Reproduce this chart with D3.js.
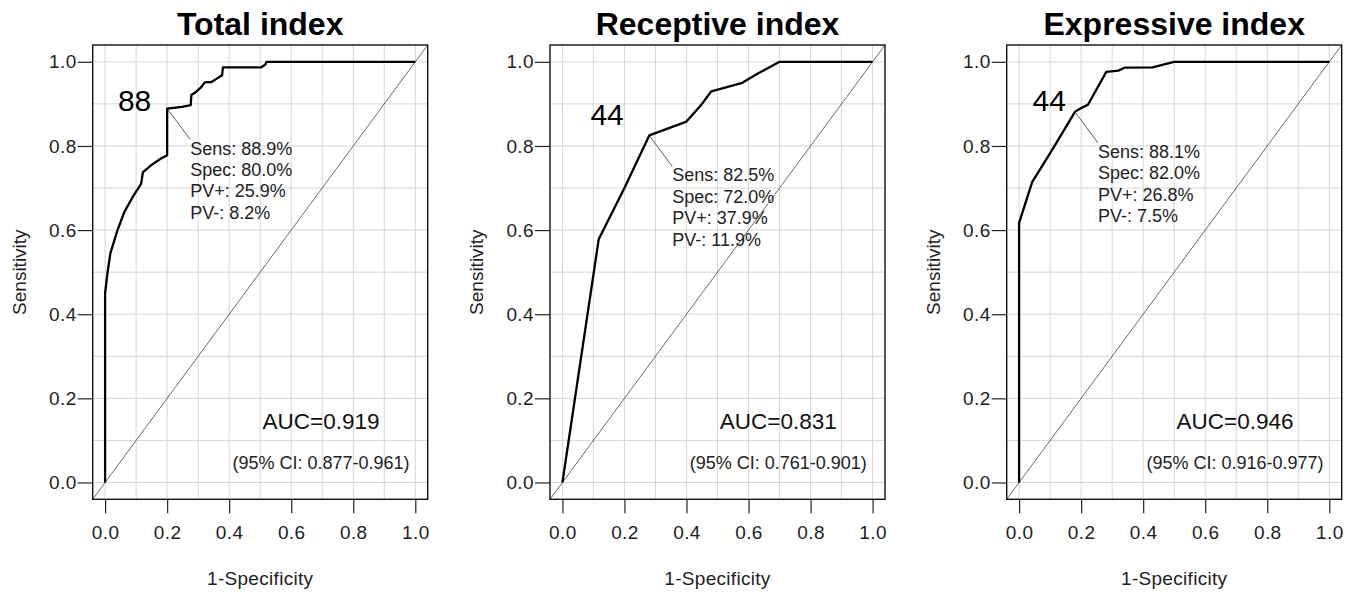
<!DOCTYPE html>
<html>
<head>
<meta charset="utf-8">
<script src="https://cdn.jsdelivr.net/npm/d3@7"></script>
<style>
  body { margin: 0; background: #fff; }
  svg { font-family: "Liberation Sans", Arial, sans-serif; }
</style>
</head>
<body>
<div id="chart"></div>
<script>
// ROC curve data (1-specificity, sensitivity)
const panelTitles = ["Total index", "Receptive index", "Expressive index"];

const totalFpr = [0, 0, 0.008, 0.017, 0.04, 0.062, 0.09, 0.116, 0.122, 0.15, 0.18, 0.2, 0.2, 0.248, 0.276, 0.278, 0.294, 0.31, 0.321, 0.343, 0.36, 0.377, 0.38, 0.504, 0.517, 0.52, 1];
const totalTpr = [0, 0.45, 0.50, 0.545, 0.60, 0.643, 0.68, 0.71, 0.738, 0.755, 0.77, 0.778, 0.889, 0.893, 0.897, 0.921, 0.929, 0.94, 0.951, 0.952, 0.96, 0.968, 0.987, 0.987, 0.994, 1, 1];

const receptiveFpr = [0, 0.117, 0.2, 0.28, 0.4, 0.45, 0.48, 0.58, 0.63, 0.7, 1];
const receptiveTpr = [0, 0.578, 0.70, 0.825, 0.858, 0.90, 0.93, 0.95, 0.972, 1, 1];

const expressiveFpr = [0, 0, 0.042, 0.11, 0.18, 0.2, 0.222, 0.281, 0.32, 0.34, 0.43, 0.5, 1];
const expressiveTpr = [0, 0.617, 0.714, 0.795, 0.881, 0.89, 0.898, 0.976, 0.979, 0.986, 0.987, 1, 1];

// best cut-off point on each curve
const cutoffLabels = ["88", "44", "44"];
const cutoffFpr = [0.2, 0.28, 0.18];
const cutoffTpr = [0.889, 0.825, 0.881];
const sensText = ["88.9%", "82.5%", "88.1%"];
const specText = ["80.0%", "72.0%", "82.0%"];
const ppvText = ["25.9%", "37.9%", "26.8%"];
const npvText = ["8.2%", "11.9%", "7.5%"];

const aucValues = ["0.919", "0.831", "0.946"];
const ciLower = ["0.877", "0.761", "0.916"];
const ciUpper = ["0.961", "0.901", "0.977"];

const tickValues = [0, 0.2, 0.4, 0.6, 0.8, 1.0];
const gridValues = d3.range(0, 11).map(i => i / 10);

const curves = [
    d3.zip(totalFpr, totalTpr),
    d3.zip(receptiveFpr, receptiveTpr),
    d3.zip(expressiveFpr, expressiveTpr)
];

// where the cut-off number sits (data units), per panel
const cutLabelPos = [[0.095, 0.882], [0.144, 0.85], [0.097, 0.882]];

var W = 1355, H = 592;
var boxW = 335, boxTop = 45, boxBottom = 499.3;
var panelLeft = [92.7, 550, 1006.7];

var svg = d3.select("#chart")
    .append("svg")
    .attr("width", W)
    .attr("height", H);

panelTitles.forEach((title, i) => {
    var left = panelLeft[i];
    var x = d3.scaleLinear().domain([-0.04, 1.04]).range([left, left + boxW]);
    var y = d3.scaleLinear().domain([-0.04, 1.04]).range([boxBottom, boxTop]);
    var g = svg.append("g");

    // grid
    g.selectAll(".vgrid")
        .data(gridValues)
        .enter()
        .append("line")
        .attr("x1", d => x(d)).attr("x2", d => x(d))
        .attr("y1", boxTop).attr("y2", boxBottom)
        .attr("stroke", "#d6d6d6").attr("stroke-width", 1);
    g.selectAll(".hgrid")
        .data(gridValues)
        .enter()
        .append("line")
        .attr("y1", d => y(d)).attr("y2", d => y(d))
        .attr("x1", left).attr("x2", left + boxW)
        .attr("stroke", "#d6d6d6").attr("stroke-width", 1);

    // chance diagonal across the whole box
    g.append("line")
        .attr("x1", x(-0.04)).attr("y1", y(-0.04))
        .attr("x2", x(1.04)).attr("y2", y(1.04))
        .attr("stroke", "#444").attr("stroke-width", 0.8);

    // ROC curve
    var line = d3.line().x(d => x(d[0])).y(d => y(d[1]));
    g.append("path")
        .datum(curves[i])
        .attr("d", line)
        .attr("fill", "none")
        .attr("stroke", "#000")
        .attr("stroke-width", 2.3)
        .attr("stroke-linejoin", "round");

    // box
    g.append("rect")
        .attr("x", left).attr("y", boxTop)
        .attr("width", boxW).attr("height", boxBottom - boxTop)
        .attr("fill", "none").attr("stroke", "#111").attr("stroke-width", 1.4);

    // axes
    var xAxis = g.append("g")
        .attr("transform", `translate(0,${boxBottom})`)
        .call(d3.axisBottom(x).tickValues(tickValues).tickFormat(d3.format(".1f")).tickSize(14).tickPadding(12));
    var yAxis = g.append("g")
        .attr("transform", `translate(${left},0)`)
        .call(d3.axisLeft(y).tickValues(tickValues).tickFormat(d3.format(".1f")).tickSize(15).tickPadding(1));
    [xAxis, yAxis].forEach(a => {
        a.select(".domain").remove();
        a.selectAll(".tick line").attr("stroke", "#222").attr("stroke-width", 1.2);
        a.selectAll("text")
            .attr("fill", "#222")
            .style("font-size", "19px")
            .style("letter-spacing", "0.4px")
            .style("font-family", "'Liberation Sans', Arial, sans-serif");
    });
    xAxis.selectAll("text").attr("dy", "0.71em");

    // titles
    g.append("text")
        .attr("x", left + boxW / 2).attr("y", 35)
        .attr("text-anchor", "middle")
        .style("font-size", "32px").style("font-weight", "bold")
        .text(title);
    g.append("text")
        .attr("x", left + boxW / 2).attr("y", 585)
        .attr("text-anchor", "middle")
        .attr("fill", "#222")
        .style("font-size", "19px").style("letter-spacing", "0.3px")
        .text("1-Specificity");
    g.append("text")
        .attr("transform", `translate(${left - 67},${(boxTop + boxBottom) / 2}) rotate(-90)`)
        .attr("text-anchor", "middle")
        .attr("fill", "#222")
        .style("font-size", "19px")
        .text("Sensitivity");

    // cut-off annotation
    var px = x(cutoffFpr[i]), py = y(cutoffTpr[i]);
    g.append("text")
        .attr("x", x(cutLabelPos[i][0])).attr("y", y(cutLabelPos[i][1]))
        .attr("text-anchor", "middle")
        .style("font-size", "30px")
        .text(cutoffLabels[i]);
    g.append("line")
        .attr("x1", px).attr("y1", py)
        .attr("x2", px + 23).attr("y2", py + 31)
        .attr("stroke", "#333").attr("stroke-width", 0.8);
    var lines = ["Sens: " + sensText[i], "Spec: " + specText[i], "PV+: " + ppvText[i], "PV-: " + npvText[i]];
    g.selectAll(".ann")
        .data(lines)
        .enter()
        .append("text")
        .attr("x", px + 23)
        .attr("y", (d, k) => py + 46 + k * 21.4)
        .attr("fill", "#222")
        .style("font-size", "18px")
        .text(d => d);

    // AUC
    g.append("text")
        .attr("x", x(0.696)).attr("y", y(0.128))
        .attr("text-anchor", "middle")
        .attr("fill", "#111")
        .style("font-size", "22.5px")
        .text("AUC=" + aucValues[i]);
    g.append("text")
        .attr("x", x(0.696)).attr("y", y(0.033))
        .attr("text-anchor", "middle")
        .attr("fill", "#222")
        .style("font-size", "18px")
        .text("(95% CI: " + ciLower[i] + "-" + ciUpper[i] + ")");
});
</script>
</body>
</html>
